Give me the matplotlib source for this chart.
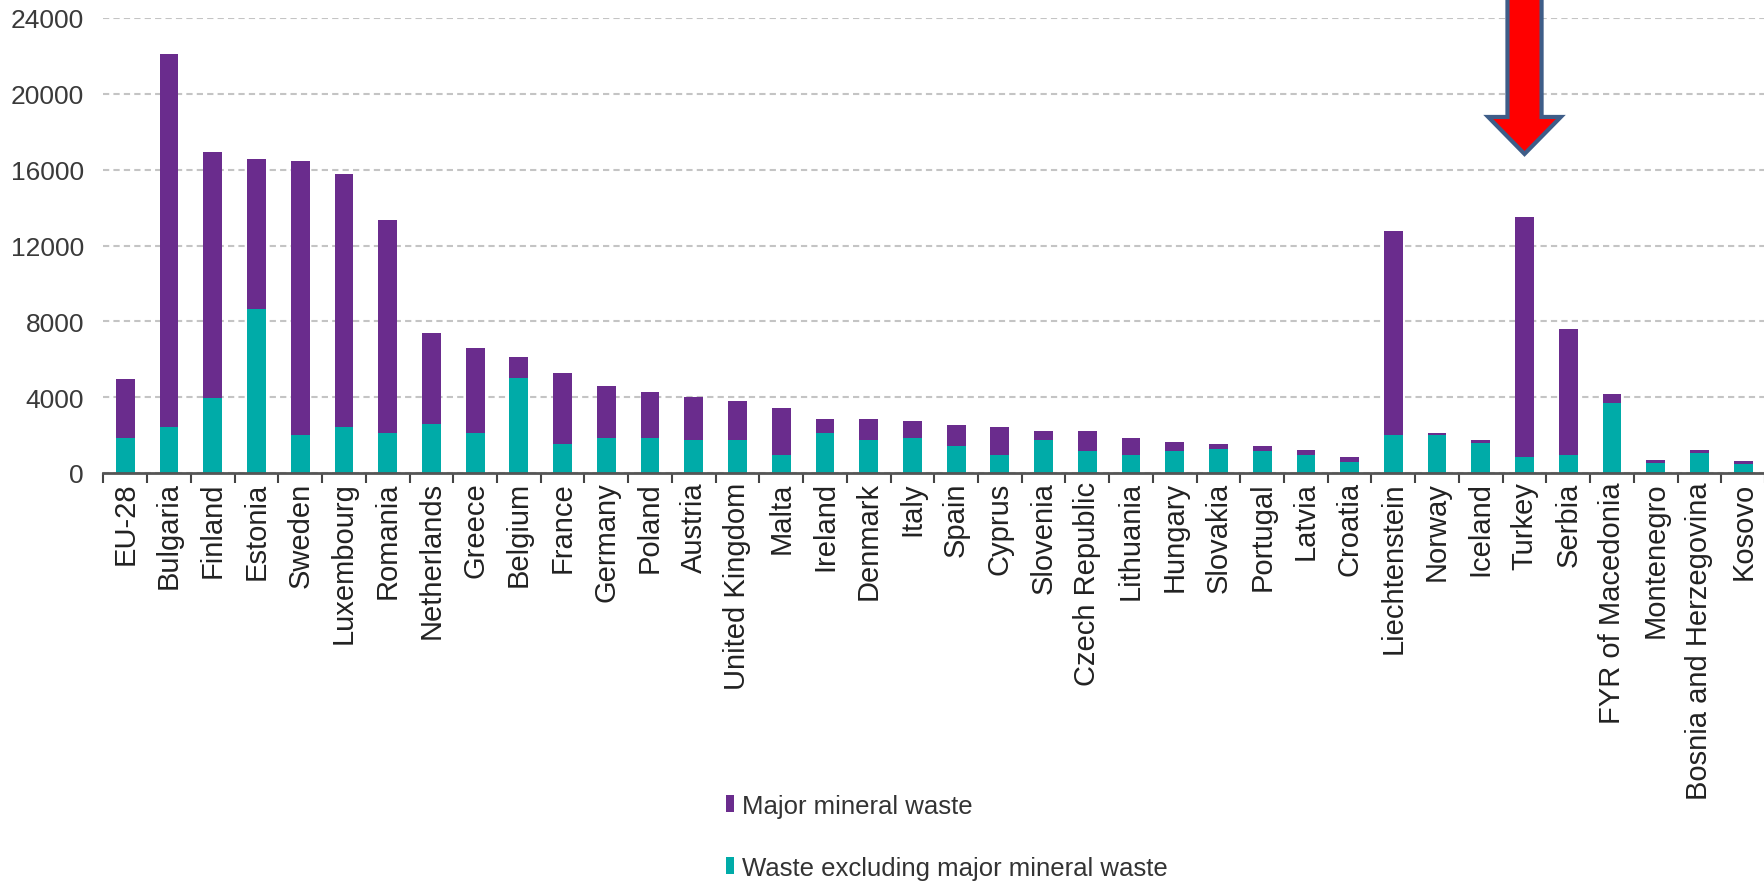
import matplotlib
matplotlib.use("Agg")
import matplotlib.pyplot as plt
from matplotlib.patches import FancyArrow, Patch
import numpy as np

categories = ["EU-28", "Bulgaria", "Finland", "Estonia", "Sweden", "Luxembourg", "Romania",
              "Netherlands", "Greece", "Belgium", "France", "Germany", "Poland", "Austria",
              "United Kingdom", "Malta", "Ireland", "Denmark", "Italy", "Spain", "Cyprus",
              "Slovenia", "Czech Republic", "Lithuania", "Hungary", "Slovakia", "Portugal",
              "Latvia", "Croatia", "Liechtenstein", "Norway", "Iceland", "Turkey", "Serbia",
              "FYR of Macedonia", "Montenegro", "Bosnia and Herzegovina", "Kosovo"]

# total waste per inhabitant (kg) and part excluding major mineral waste
total = [4970, 22100, 16950, 16570, 16460, 15790, 13370, 7400, 6590, 6110, 5290, 4590,
         4270, 4000, 3780, 3440, 2860, 2860, 2760, 2550, 2410, 2200, 2200, 1850, 1630,
         1550, 1410, 1190, 830, 12790, 2130, 1720, 13490, 7610, 4150, 700, 1190, 610]
non_mineral = [1845, 2420, 3950, 8630, 1990, 2420, 2110, 2580, 2110, 5010, 1550, 1845,
               1850, 1720, 1720, 970, 2110, 1720, 1850, 1420, 970, 1720, 1160, 970, 1160,
               1280, 1160, 970, 580, 1990, 1990, 1600, 830, 970, 3710, 540, 1070, 460]
major_mineral = [t - n for t, n in zip(total, non_mineral)]

yticks = [0, 4000, 8000, 12000, 16000, 20000, 24000]
legend_labels = ["Major mineral waste", "Waste excluding major mineral waste"]
highlight = "Turkey"

purple = "#6A2C8D"
teal = "#00ABA8"

plt.rcParams['font.family'] = ['Liberation Sans', 'DejaVu Sans']

fig = plt.figure(figsize=(17.65, 8.87), dpi=100)
ax = fig.add_axes([103.5 / 1765, 413 / 887, (1765 - 103.5) / 1765, 455 / 887])

x = np.arange(len(categories))
w = 0.43
ax.bar(x, non_mineral, width=w, color=teal, zorder=3)
ax.bar(x, major_mineral, width=w, bottom=non_mineral, color=purple, zorder=3)

ax.set_xlim(-0.5, len(categories) - 0.5)
ax.set_ylim(0, 24000)
ax.set_yticks(yticks)
ax.set_yticklabels([str(v) for v in yticks], fontsize=19, color="#3a3a3a")
ax.tick_params(axis='y', length=0, pad=14)

ax.set_xticks(x)
ax.set_xticklabels(categories, rotation=90, fontsize=21, color="#222222")
ax.tick_params(axis='x', which='major', length=0, pad=6)
ax.set_xticks(np.arange(-0.5, len(categories)), minor=True)
ax.tick_params(axis='x', which='minor', length=7, width=1.5, color="#444444", direction='out')

for s in ["left", "right", "top"]:
    ax.spines[s].set_visible(False)
ax.spines["bottom"].set_color("#555555")
ax.spines["bottom"].set_linewidth(2)
ax.spines["bottom"].set_zorder(4)

ax.yaxis.grid(True, linestyle=(0, (3, 2)), color="#c4c4c4", linewidth=1.5, zorder=0)
ax.set_axisbelow(True)

# highlight arrow
hi = categories.index(highlight)
arrow = FancyArrow(hi, 25600, 0, 16830 - 25600, width=0.78, head_width=1.66,
                   head_length=1950, length_includes_head=True,
                   facecolor="#ff0000", edgecolor="#3e5d88", linewidth=3,
                   clip_on=False, zorder=6)
ax.add_patch(arrow)

handles = [Patch(facecolor=purple, edgecolor='none'), Patch(facecolor=teal, edgecolor='none')]
leg = fig.legend(handles, legend_labels, loc='upper left', bbox_to_anchor=(0.4115, 0.104),
                 frameon=False, borderpad=0, borderaxespad=0, handlelength=0.31,
                 handleheight=0.62, handletextpad=0.3, labelspacing=1.47,
                 prop={'family': ['Liberation Sans'], 'size': 18.5})
for t in leg.get_texts():
    t.set_color("#333333")

fig.savefig("out.png", dpi=100)
